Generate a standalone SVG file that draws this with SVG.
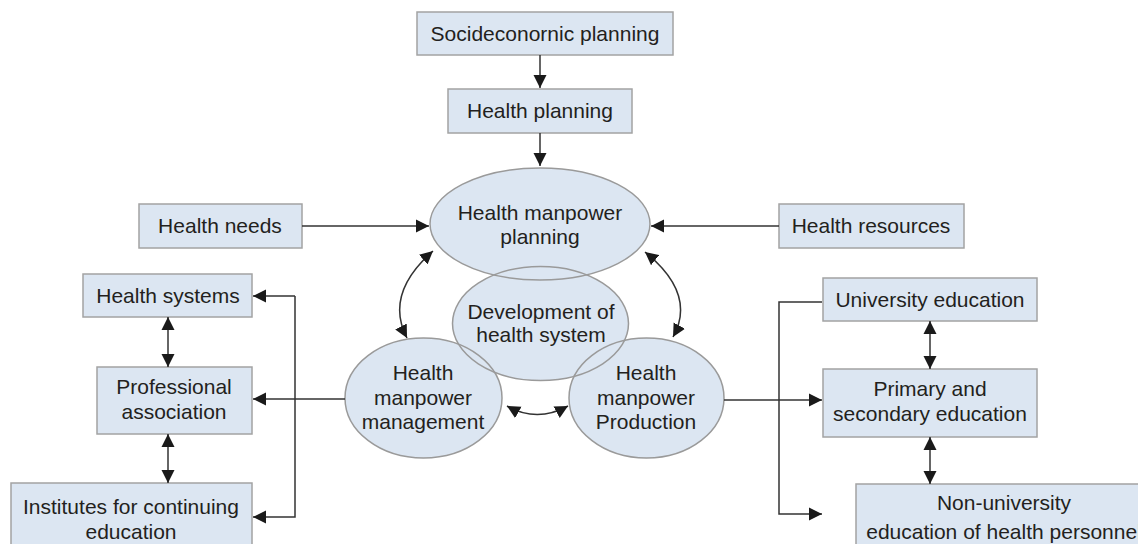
<svg xmlns="http://www.w3.org/2000/svg" width="1138" height="544" viewBox="0 0 1138 544">
<style>
.box{fill:#dce6f2;stroke:#a3a3a3;stroke-width:1.5}
.ell{fill:#dce6f2;stroke:none}
.eo{fill:none;stroke:#9a9a9a;stroke-width:1.5}
.t{font-family:"Liberation Sans",Arial,sans-serif;font-size:21px;fill:#231f20;text-anchor:middle}
.c{fill:none;stroke:#333;stroke-width:1.5}
</style>
<defs>
<marker id="ah" markerUnits="userSpaceOnUse" markerWidth="14" markerHeight="14" viewBox="0 0 14 14" refX="13" refY="7" orient="auto-start-reverse">
<path d="M0,0.5 L13,7 L0,13.5 z" fill="#1a1a1a"/>
</marker>
</defs>
<rect width="1138" height="544" fill="#fff"/>
<g id="socio"><rect class="box" x="417" y="12" width="256" height="43"/><text class="t" x="545" y="41">Socideconornic planning</text></g>
<g id="hplanning"><rect class="box" x="448" y="89" width="184" height="44"/><text class="t" x="540" y="118">Health planning</text></g>
<g id="hneeds"><rect class="box" x="139" y="204" width="163" height="44"/><text class="t" x="220" y="233">Health needs</text></g>
<g id="hresources"><rect class="box" x="779" y="204" width="185" height="44"/><text class="t" x="871" y="233">Health resources</text></g>
<g id="hsystems"><rect class="box" x="83" y="274" width="169" height="43"/><text class="t" x="168" y="303">Health systems</text></g>
<g id="profassoc"><rect class="box" x="97" y="367" width="155" height="67"/><text class="t" x="174" y="394">Professional</text><text class="t" x="174" y="419">association</text></g>
<g id="institutes"><rect class="box" x="11" y="483" width="241" height="80"/><text class="t" x="131" y="514">Institutes for continuing</text><text class="t" x="131" y="539">education</text></g>
<g id="univ"><rect class="box" x="823" y="278" width="214" height="43"/><text class="t" x="930" y="307">University education</text></g>
<g id="primary"><rect class="box" x="823" y="369" width="214" height="68"/><text class="t" x="930" y="396">Primary and</text><text class="t" x="930" y="421">secondary education</text></g>
<g id="nonuniv"><rect class="box" x="856" y="484" width="296" height="80"/><text class="t" x="1004" y="510">Non-university</text><text class="t" x="1004" y="539">education of health personnel</text></g>
<g id="hmplanning"><ellipse class="ell" cx="540" cy="224" rx="110" ry="56"/><text class="t" x="540" y="220">Health manpower</text><text class="t" x="540" y="244">planning</text></g>
<g id="devhealth"><ellipse class="ell" cx="540.5" cy="323.5" rx="88" ry="57"/><text class="t" x="541" y="319">Development of</text><text class="t" x="541" y="342">health system</text></g>
<g id="hmmanagement"><ellipse class="ell" cx="423.5" cy="398" rx="78.5" ry="60"/><text class="t" x="423" y="380">Health</text><text class="t" x="423" y="405">manpower</text><text class="t" x="423" y="429">management</text></g>
<g id="hmproduction"><ellipse class="ell" cx="646.5" cy="398" rx="77.5" ry="60"/><text class="t" x="646" y="380">Health</text><text class="t" x="646" y="405">manpower</text><text class="t" x="646" y="429">Production</text></g>
<g id="outlines">
<ellipse class="eo" cx="540" cy="224" rx="110" ry="56"/>
<ellipse class="eo" cx="540.5" cy="323.5" rx="88" ry="57"/>
<ellipse class="eo" cx="423.5" cy="398" rx="78.5" ry="60"/>
<ellipse class="eo" cx="646.5" cy="398" rx="77.5" ry="60"/>
</g>
<g id="connectors">
<path class="c" d="M540,55 V88" marker-end="url(#ah)"/>
<path class="c" d="M540,133 V166" marker-end="url(#ah)"/>
<path class="c" d="M302,226 H429" marker-end="url(#ah)"/>
<path class="c" d="M779,226 H651" marker-end="url(#ah)"/>
<path class="c" d="M433,251 Q384,294 407,338" marker-start="url(#ah)" marker-end="url(#ah)"/>
<path class="c" d="M645,252 Q697,294 673,337" marker-start="url(#ah)" marker-end="url(#ah)"/>
<path class="c" d="M507,406 Q537,423 568,406" marker-start="url(#ah)" marker-end="url(#ah)"/>
<path class="c" d="M345,399 H253" marker-end="url(#ah)"/>
<path class="c" d="M295,296 H253" marker-end="url(#ah)"/>
<path class="c" d="M295,296 V517 H253" marker-end="url(#ah)"/>
<path class="c" d="M168,317 V367" marker-start="url(#ah)" marker-end="url(#ah)"/>
<path class="c" d="M168,434 V483" marker-start="url(#ah)" marker-end="url(#ah)"/>
<path class="c" d="M724,400 H822" marker-end="url(#ah)"/>
<path class="c" d="M822,302 H779 V514 H822" marker-end="url(#ah)"/>
<path class="c" d="M930,321 V369" marker-start="url(#ah)" marker-end="url(#ah)"/>
<path class="c" d="M930,437 V484" marker-start="url(#ah)" marker-end="url(#ah)"/>
</g>
</svg>
